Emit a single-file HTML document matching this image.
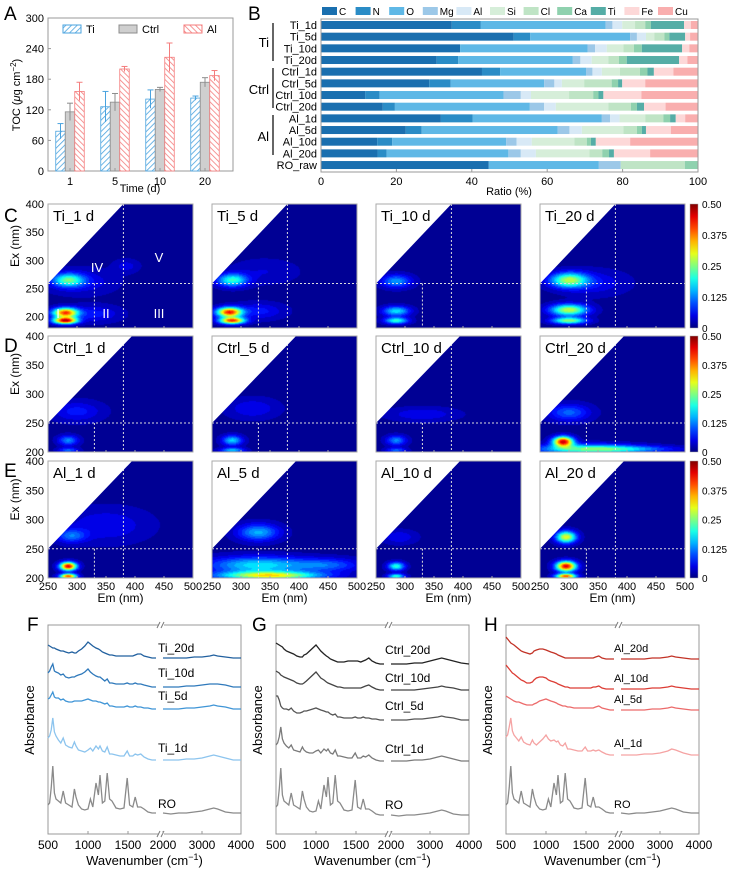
<!DOCTYPE html>
<html><head><meta charset="utf-8">
<style>
html,body{margin:0;padding:0;background:#fff;}
#root{position:relative;width:730px;height:874px;overflow:hidden;font-family:"Liberation Sans",sans-serif;}
canvas{position:absolute;}
svg{position:absolute;left:0;top:0;}
text{font-family:"Liberation Sans",sans-serif;}
</style></head>
<body>
<div id="root">
<svg id="svg" width="730" height="874"></svg>
</div>
<script>
// ---------- Panel A data ----------
const tocDays = ["1","5","10","20"];
const tocTi = [78,126,141,143];
const tocTiErr = [15,30,18,4];
const tocCtrl = [116,135,160,174];
const tocCtrlErr = [17,17,4,9];
const tocAl = [156,200,223,187];
const tocAlErr = [18,5,28,10];
const tocTicks = [0,60,120,180,240,300];

// ---------- Panel B data ----------
const elemNames = ["C","N","O","Mg","Al","Si","Cl","Ca","Ti","Fe","Cu"];
const sampleNames = ["Ti_1d","Ti_5d","Ti_10d","Ti_20d","Ctrl_1d","Ctrl_5d","Ctrl_10d","Ctrl_20d","Al_1d","Al_5d","Al_10d","Al_20d","RO_raw"];
const ratioTi1 = [34.7,7.7,33.1,1.8,2.6,3.4,2.7,1.5,8.8,1.8,1.9];
const ratioTi5 = [51.1,4.4,26.5,1.8,2.4,2.2,2.7,1.3,4.2,1.3,2.1];
const ratioTi10 = [36.9,0,33.8,2,3.1,4.4,2.8,2.1,10.7,1.9,2.3];
const ratioTi20 = [30.7,5.7,30.4,2,3,4.4,2.8,2.1,13.9,2.2,2.8];
const ratioCtrl1 = [42.7,4.8,22.8,1.7,2.5,4.8,5.3,2,1.7,5.2,6.5];
const ratioCtrl5 = [28.7,5.7,24.8,2.7,2,5.9,7.3,1.7,1.1,6.1,14];
const ratioCtrl10 = [11.7,3.8,32.9,4.6,2.7,10.1,6.4,1.4,1.3,10.1,15];
const ratioCtrl20 = [16.4,3.2,35.8,3.8,3.1,13.9,6,1.6,1.9,5.7,8.6];
const ratioAl1 = [31.8,8.4,34.3,2.2,2.5,6.8,4.8,1.8,1.5,2.5,3.4];
const ratioAl5 = [22.5,4.2,36.1,3.1,3.3,11,3.6,1.3,1.1,6.6,7.2];
const ratioAl10 = [14.9,4,30.2,2.8,4,11.3,3.3,1.1,1.3,9.1,18];
const ratioAl20 = [15,2.4,32.3,3.3,4,14.2,3.4,1.8,1.3,9.6,12.7];
const ratioRO = [44.5,0,29.2,5.8,0,0,17,3.5,0,0,0];
const ratioTicks = [0,20,40,60,80,100];

// ---------- EEM data: [Em, Ex, intensity, sigmaEm, sigmaEx] ----------
const eemTi1 = [[285,265,0.2,18,8],[280,207,0.4,15,6],[280,193,0.45,14,4],[305,262,0.05,40,15],[330,205,0.06,30,10],[385,290,0.04,15,8]];
const eemTi5 = [[285,265,0.2,18,8],[280,208,0.42,15,6],[285,193,0.4,15,4],[330,210,0.06,30,10],[340,280,0.03,40,15]];
const eemTi10 = [[285,263,0.13,18,8],[285,210,0.17,16,6],[285,193,0.2,14,4]];
const eemTi20 = [[300,265,0.25,22,9],[300,212,0.28,22,7],[300,193,0.25,20,4],[340,260,0.05,40,15]];
const eemCtrl1 = [[285,220,0.12,12,6],[300,270,0.06,30,12],[285,203,0.1,12,3]];
const eemCtrl5 = [[285,220,0.16,12,6],[285,203,0.15,14,3],[320,275,0.05,30,12]];
const eemCtrl10 = [[285,220,0.12,12,6],[285,203,0.1,12,3],[330,265,0.05,40,8]];
const eemCtrl20 = [[290,218,0.45,12,6],[330,205,0.2,60,6],[300,268,0.1,25,10],[400,205,0.1,60,4]];
const eemAl1 = [[285,220,0.45,10,5],[285,203,0.4,10,3],[290,272,0.1,18,8],[350,290,0.05,50,20]];
const eemAl5 = [[330,278,0.14,25,10],[350,204,0.3,60,5],[330,222,0.17,60,10],[450,222,0.09,40,8]];
const eemAl10 = [[285,220,0.2,10,5],[285,203,0.2,10,3],[290,270,0.05,20,8]];
const eemAl20 = [[295,270,0.3,12,7],[295,220,0.45,12,6],[295,203,0.4,12,3]];
const exTicks = [200,250,300,350,400];
const emTicks = [250,300,350,400,450,500];
const cbarTicks = ["0","0.125","0.25","0.375","0.50"];

// ---------- FTIR data ----------
const wnGrid = [500,520,540,560,580,600,630,660,690,720,760,800,830,850,880,920,960,1000,1030,1060,1100,1130,1150,1180,1210,1240,1270,1300,1350,1400,1450,1490,1520,1560,1590,1620,1660,1700,1750,1800,1850,
 2000,2200,2400,2600,2800,3000,3200,3300,3400,3600,3800,4000];
const absRO = [8,10,25,47,20,14,12,10,22,10,8,6,24,16,8,4,3,4,14,6,30,18,38,10,12,40,14,12,5,4,5,35,8,6,16,6,6,4,1,0,0, 0,-1,0,0,1,2,4,5,4,1,0,0];
const absTi1 = [22,24,30,42,28,24,20,17,22,15,13,12,18,14,10,9,8,10,12,9,14,11,14,9,8,13,6,6,5,4,4,9,4,4,6,5,6,3,1,0,0, 0,0,0,1,1,2,4,5,4,2,0,0];
const absTi5 = [10,11,14,17,12,11,11,9,10,8,7,7,8,8,8,8,9,10,9,8,8,7,7,6,5,6,3,3,2,2,2,3,2,2,3,2,2,1,1,0,0, 0,0,0,1,1,2,3,4,3,2,0,0];
const absTi10 = [14,16,20,23,16,15,14,12,13,10,9,10,10,11,12,13,15,18,15,13,11,10,10,8,6,8,4,4,3,3,3,4,3,3,4,3,3,2,1,0,0, 0,0,0,1,1,2,3,3,3,2,0,0];
const absTi20 = [13,12,11,10,10,9,8,7,7,6,5,6,5,5,7,9,12,16,14,12,10,9,8,6,5,4,3,3,2,2,2,2,2,2,3,4,4,2,1,0,0, 0,0,0,0,1,1,2,3,2,1,0,0];
const absCtrl1 = [16,18,24,34,22,18,15,13,16,11,10,9,14,11,9,8,8,10,11,8,12,10,12,8,7,11,5,5,4,3,3,8,3,3,5,4,6,3,1,0,0, 0,0,0,1,1,2,4,5,4,2,0,0];
const absCtrl5 = [24,24,20,14,12,11,11,10,12,9,7,7,8,9,9,10,11,12,11,10,9,8,8,6,5,6,3,3,2,2,2,3,2,2,3,2,2,1,1,0,0, 0,0,0,1,1,2,3,4,3,2,0,0];
const absCtrl10 = [19,18,17,15,14,13,12,11,10,9,7,6,6,7,9,12,15,18,15,12,10,8,7,6,5,4,3,3,2,2,2,2,2,2,3,4,5,3,1,0,0, 0,0,0,0,1,2,3,4,3,2,0,0];
const absCtrl20 = [21,20,19,18,17,15,13,12,11,10,8,7,7,9,10,13,16,19,16,13,10,8,7,5,4,3,2,2,2,3,3,3,3,2,3,4,6,3,1,0,0, 0,0,0,1,1,3,5,6,5,3,1,0];
const absAl1 = [18,20,28,37,24,20,17,14,18,13,11,10,15,12,10,13,16,20,16,14,15,13,14,10,9,12,6,6,5,4,4,8,4,4,5,4,5,3,1,0,0, 0,0,0,1,1,2,4,6,5,2,0,0];
const absAl5 = [14,13,12,11,10,9,8,8,7,6,5,5,5,6,7,9,10,11,10,9,8,7,6,5,4,4,3,3,2,2,2,2,2,2,2,3,4,2,1,0,0, 0,0,0,0,1,1,2,3,2,1,0,0];
const absAl10 = [24,22,20,18,16,15,13,11,9,8,6,6,7,9,11,12,12,11,9,8,7,6,5,4,3,2,2,1,1,1,1,1,1,1,2,2,3,1,0,0,0, 0,0,0,0,1,1,2,3,2,1,0,0];
const absAl20 = [22,20,18,16,15,14,12,10,8,7,6,5,6,8,9,10,10,9,8,7,6,5,4,3,2,1,1,1,1,1,1,1,1,1,1,2,3,1,0,0,0, 0,0,0,0,1,1,2,3,2,1,0,0];
const wnTicks = [500,1000,1500,2000,3000,4000];

// ================= drawing =================
const NS="http://www.w3.org/2000/svg";
const svg=document.getElementById('svg');
const root=document.getElementById('root');
function mk(tag,attrs,parent){const e=document.createElementNS(NS,tag);for(const k in attrs)e.setAttribute(k,attrs[k]);(parent||svg).appendChild(e);return e;}
function txt(x,y,s,size,anchor,parent,extra){const t=mk('text',Object.assign({x:x,y:y,'font-size':size,'text-anchor':anchor||'start',fill:'#000'},extra||{}),parent);t.textContent=s;return t;}

const defs=mk('defs',{});
const p1=mk('pattern',{id:'hTi',width:4,height:4,patternUnits:'userSpaceOnUse',patternTransform:'rotate(45)'},defs);
mk('rect',{width:4,height:4,fill:'#fff'},p1);mk('line',{x1:0,y1:0,x2:0,y2:4,stroke:'#4aa3df','stroke-width':1.6},p1);
const p2=mk('pattern',{id:'hAl',width:4,height:4,patternUnits:'userSpaceOnUse',patternTransform:'rotate(-45)'},defs);
mk('rect',{width:4,height:4,fill:'#fff'},p2);mk('line',{x1:0,y1:0,x2:0,y2:4,stroke:'#f47c7c','stroke-width':1.6},p2);

// ---- Panel A ----
(function(){
 const g=mk('g',{});
 
 
 const L=48,R=233,T=18,B=171;
 const yS=v=>B-(v/300)*(B-T);
 const xC=i=>L+22+45*i;
 mk('rect',{x:L,y:T,width:R-L,height:B-T,fill:'none',stroke:'#999'},g);
 tocTicks.forEach(v=>{const y=yS(v);mk('line',{x1:L,x2:L+3,y1:y,y2:y,stroke:'#999'},g);
  const t=txt(L-4,y+4,String(v),11,'end',g);});
 const series=[[tocTi,tocTiErr,'url(#hTi)','#4aa3df','ti'],[tocCtrl,tocCtrlErr,'#cfcfcf','#8c8c8c','ctrl'],[tocAl,tocAlErr,'url(#hAl)','#f47c7c','al']];
 tocDays.forEach((d,i)=>{
  series.forEach((s,k)=>{
   const x=xC(i)-14.25+k*9.5, v=s[0][i], e=s[1][i];
   const r=mk('rect',{x:x,y:yS(v),width:9.5,height:B-yS(v),fill:s[2],stroke:s[3],'stroke-width':0.8},g);
   
   
   const cx=x+4.75;
   mk('line',{x1:cx,x2:cx,y1:yS(v+e),y2:yS(v-e),stroke:s[3],'stroke-width':1},g);
   mk('line',{x1:cx-3,x2:cx+3,y1:yS(v+e),y2:yS(v+e),stroke:s[3],'stroke-width':1},g);
  });
  mk('line',{x1:xC(i),x2:xC(i),y1:B,y2:B-3,stroke:'#999'},g);
  const t=txt(xC(i),B+14,d,11,'middle',g);
 });
 const lg=[[63,'url(#hTi)','#4aa3df','Ti'],[119,'#cfcfcf','#8c8c8c','Ctrl'],[184,'url(#hAl)','#f47c7c','Al']];
 lg.forEach(l=>{const r=mk('rect',{x:l[0],y:25,width:18,height:8,fill:l[1],stroke:l[2]},g);
  
  txt(l[0]+23,33,l[3],11,'start',g);});
 const yt=txt(0,0,'',11,'middle',g,{transform:'translate(20,95) rotate(-90)'});
 yt.innerHTML='TOC (<tspan font-style="italic">μ</tspan>g cm<tspan dy="-4" font-size="8">−2</tspan><tspan dy="4">)</tspan>';
 
 const xt=txt(140,192,'Time (d)',11,'middle',g);
})();

// ---- Panel B ----
(function(){
 const g=mk('g',{});
 
 
 const L=321,R=698,T=19,B=172;
 const xS=v=>L+(v/100)*(R-L);
 const colors=['#1a6faf','#2a8cc6','#5fb8e6','#9cc8e8','#d8e9f6','#d6eed9','#bfe4c5','#8fd1ae','#55ada6','#fdd8d8','#f9aeae'];
 const rows=[ratioTi1,ratioTi5,ratioTi10,ratioTi20,ratioCtrl1,ratioCtrl5,ratioCtrl10,ratioCtrl20,ratioAl1,ratioAl5,ratioAl10,ratioAl20,ratioRO];
 const rowY=i=>25+i*11.67;
 rows.forEach((row,i)=>{
  let acc=0;
  row.forEach((v,k)=>{
   if(v>0){const r=mk('rect',{x:xS(acc),y:rowY(i)-4,width:xS(acc+v)-xS(acc),height:8,fill:colors[k]},g);
    
    }
   acc+=v;
  });
  const t=txt(L-4,rowY(i)+4,sampleNames[i],11,'end',g);
  
 });
 mk('rect',{x:L,y:T,width:R-L,height:B-T,fill:'none',stroke:'#999'},g);
 ratioTicks.forEach(v=>{mk('line',{x1:xS(v),x2:xS(v),y1:B,y2:B-3,stroke:'#999'},g);
  const t=txt(xS(v),B+13,String(v),11,'middle',g);});
 const xt=txt(509,195,'Ratio (%)',11,'middle',g);
 [['Ti',23,61,47],['Ctrl',68,108,94],['Al',115,155,141]].forEach(gr=>{
  mk('line',{x1:273,x2:273,y1:gr[1],y2:gr[2],stroke:'#333','stroke-width':1.5},g);
  const t=txt(269,gr[3],gr[0],13,'end',g);
 });
 elemNames.forEach((n,k)=>{
  const x=322+k*33.6;
  const r=mk('rect',{x:x,y:7,width:15,height:8,fill:colors[k]},g);
  
  txt(x+17,15,n,10,'start',g);
 });
})();

// ---- EEM panels ----
function jet(t){t=Math.max(0,Math.min(1,t));const c=v=>Math.round(255*Math.max(0,Math.min(1,v)));
 return [c(1.5-Math.abs(4*t-3)),c(1.5-Math.abs(4*t-2)),c(1.5-Math.abs(4*t-1))];}
const panelX=[48,212,376,540], PW=145;
const rowsEEM=[
 {top:204,bot:328,exMin:180,names:['Ti_1 d','Ti_5 d','Ti_10 d','Ti_20 d'],data:[eemTi1,eemTi5,eemTi10,eemTi20],tri:0.52,id:'c'},
 {top:336,bot:452,exMin:200,names:['Ctrl_1 d','Ctrl_5 d','Ctrl_10 d','Ctrl_20 d'],data:[eemCtrl1,eemCtrl5,eemCtrl10,eemCtrl20],tri:0.58,id:'d'},
 {top:461,bot:578,exMin:200,names:['Al_1 d','Al_5 d','Al_10 d','Al_20 d'],data:[eemAl1,eemAl5,eemAl10,eemAl20],tri:0.58,id:'e'}];
rowsEEM.forEach((row,ri)=>{
 const H=row.bot-row.top;
 const exY=ex=>row.top+(400-ex)/(400-row.exMin)*H;
 const emX=(px,em)=>px+(em-250)/250*PW;
 row.data.forEach((blobs,pi)=>{
  const px=panelX[pi];
  const cv=document.createElement('canvas');cv.width=PW;cv.height=H;
  cv.style.left=px+'px';cv.style.top=row.top+'px';
  
  
  root.insertBefore(cv,svg);
  const ctx=cv.getContext('2d');const img=ctx.createImageData(PW,H);
  for(let j=0;j<H;j++){const ex=400-(j+0.5)/H*(400-row.exMin);
   for(let i=0;i<PW;i++){const em=250+(i+0.5)/PW*250;let v=0.012;
    blobs.forEach(b=>{const a=(em-b[0])/b[3],c=(ex-b[1])/b[4];v+=b[2]*Math.exp(-0.5*(a*a+c*c));});
    const q=Math.floor(v/0.5*24)/24;const col=jet(q*0.98+0.02);const o=(j*PW+i)*4;
    img.data[o]=col[0];img.data[o+1]=col[1];img.data[o+2]=col[2];img.data[o+3]=255;}}
  ctx.putImageData(img,0,0);
  const g=mk('g',{});
  
  
  const hy=exY(250)+(ri===0?-5:0);
  const dash={stroke:'#ddd','stroke-width':1,'stroke-dasharray':'2,2'};
  mk('line',Object.assign({x1:px,x2:px+PW,y1:hy,y2:hy},dash),g);
  mk('line',Object.assign({x1:emX(px,330),x2:emX(px,330),y1:hy,y2:row.bot},dash),g);
  mk('line',Object.assign({x1:emX(px,380),x2:emX(px,380),y1:row.top,y2:row.bot},dash),g);
  mk('polygon',{points:`${px},${row.top} ${px+PW*row.tri},${row.top} ${px},${hy}`,fill:'#fff'},g);
  mk('rect',{x:px,y:row.top,width:PW,height:H,fill:'none',stroke:'#aaa'},g);
  const t=txt(px+5,row.top+17,row.names[pi],15,'start',g);
  
  if(ri===2){emTicks.forEach(em=>{const tt=txt(emX(px,em),row.bot+12,String(em),11,'middle',g);
    });
   const et=txt(px+PW/2,row.bot+24,'Em (nm)',12,'middle',g);}
  emTicks.forEach(em=>{mk('line',{x1:emX(px,em),x2:emX(px,em),y1:row.bot,y2:row.bot-2,stroke:'#aaa'},g);});
 });
 exTicks.forEach(ex=>{const t=txt(44,exY(ex)+4,String(ex),11,'end');
  });
 const et=txt(0,0,'Ex (nm)',12,'middle',svg,{transform:`translate(19,${(row.top+row.bot)/2-20}) rotate(-90)`});
 
 const cg=mk('linearGradient',{id:'jet'+ri,x1:0,y1:1,x2:0,y2:0},defs);
 for(let k=0;k<=10;k++){const c=jet(k/10);mk('stop',{offset:k/10,'stop-color':`rgb(${c})`},cg);}
 const cb=mk('rect',{x:690,y:row.top,width:8,height:H,fill:`url(#jet${ri})`,stroke:'#aaa','stroke-width':0.5});
 
 cbarTicks.forEach((s,k)=>{const t=txt(702,row.bot-k/4*H+4,s,10,'start');
  });
});
[['IV',97,272],['V',159,262],['I',58,318],['II',106,318],['III',159,318]].forEach(r=>{
 const t=txt(r[1],r[2],r[0],13,'middle',svg,{fill:'#fff'});});

// ---- FTIR panels ----
const ftir=[
 {L:48,series:[['RO',absRO,813,'#8a8a8a',808],['Ti_1d',absTi1,760,'#8cc4ee',752],['Ti_5d',absTi5,709,'#3f95d6',700],['Ti_10d',absTi10,687,'#2f79bb',677],['Ti_20d',absTi20,658,'#21609f',652]],lx:110,fs:12},
 {L:276,series:[['RO',absRO,815,'#8a8a8a',809],['Ctrl_1d',absCtrl1,761,'#7a7a7a',753],['Ctrl_5d',absCtrl5,720,'#555',710],['Ctrl_10d',absCtrl10,690,'#444',682],['Ctrl_20d',absCtrl20,664,'#222',654]],lx:109,fs:12},
 {L:506,series:[['RO',absRO,813,'#8a8a8a',808],['Al_1d',absAl1,755,'#f5a3a3',747],['Al_5d',absAl5,710,'#ec6a6a',703],['Al_10d',absAl10,689,'#dc3c34',682],['Al_20d',absAl20,659,'#c23226',652]],lx:108,fs:11}];
const T=625,B=834,W=193;
ftir.forEach((p,pi)=>{
 const g=mk('g',{});
 
 
 const xS=w=>w<=1900?p.L+(w-500)*0.08:p.L+115+(w-2000)*0.039;
 mk('rect',{x:p.L,y:T,width:W,height:B-T,fill:'none',stroke:'#999'},g);
 p.series.forEach(s=>{
  let d1='',d2='';
  wnGrid.forEach((w,i)=>{const x=xS(w).toFixed(1),y=(s[2]-s[1][i]).toFixed(1);
   if(w<=1900)d1+=(d1?'L':'M')+x+','+y;else d2+=(d2?'L':'M')+x+','+y;});
  const l=mk('path',{d:d1+' '+d2,fill:'none',stroke:s[3],'stroke-width':1.3},g);
  
  
  const t=txt(p.L+p.lx,s[4],s[0],p.fs,'start',g);
  
 });
 const bx=p.L+113;
 mk('rect',{x:bx-2,y:B-3,width:5,height:6,fill:'#fff'},g);
 mk('rect',{x:bx-2,y:T-3,width:5,height:6,fill:'#fff'},g);
 [T,B].forEach(yy=>{
  mk('line',{x1:bx-4,x2:bx-1,y1:yy+3,y2:yy-3,stroke:'#777'},g);mk('line',{x1:bx,x2:bx+3,y1:yy+3,y2:yy-3,stroke:'#777'},g);});
 wnTicks.forEach(w=>{mk('line',{x1:xS(w),x2:xS(w),y1:B,y2:B-3,stroke:'#999'},g);
  const t=txt(xS(w),B+15,String(w),12,'middle',g);});
 const xt=txt(p.L+W/2,B+31,'',13,'middle',g);
 xt.innerHTML='Wavenumber (cm<tspan dy="-5" font-size="9">−1</tspan><tspan dy="5">)</tspan>';
 
 const yt=txt(0,0,'Absorbance',13,'middle',g,{transform:`translate(${p.L-14},720) rotate(-90)`});
 
});

[['A',4,20],['B',248,20],['C',4,222],['D',4,352],['E',4,477],['F',27,631],['G',252,631],['H',484,631]].forEach(l=>{
 const t=txt(l[1],l[2],l[0],19,'start');});
</script>
</body></html>
